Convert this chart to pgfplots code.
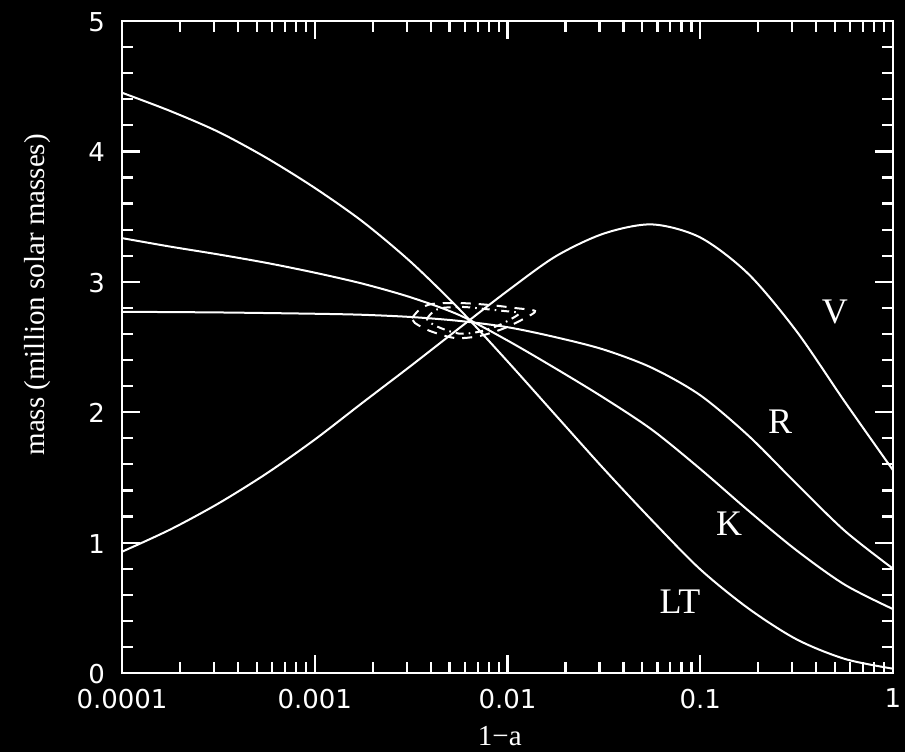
\documentclass[border=0pt]{standalone}
\usepackage{pgfplots}
\pgfplotsset{compat=1.18}
\usepackage{fontspec}
\setmainfont{Liberation Serif}
\newfontfamily\tickfont{DejaVu Sans}
\begin{document}
\begin{tikzpicture}
\path[use as bounding box, fill=black] (-61bp,-39.5bp) rectangle (391.5bp,336.5bp);
\begin{axis}[
  at={(0,0)}, anchor=south west,
  scale only axis, width=385.5bp, height=326bp,
  xmode=log, xmin=1e-4, xmax=1, ymin=0, ymax=5,
  axis line style={white, line width=1.2bp},
  every tick/.style={white, line width=1.1bp},
  major tick length=9bp, minor tick length=5.5bp,
  tick align=inside,
  xtick={1e-4,1e-3,1e-2,1e-1,1},
  xticklabels={0.0001,0.001,0.01,0.1,1},
  ytick={0,1,2,3,4,5},
  minor y tick num=4,
  /pgf/number format/assume math mode=true,
  tick label style={white, font=\tickfont\fontsize{13bp}{15bp}\selectfont},
  xticklabel style={yshift=-4.5bp},
  yticklabel style={xshift=-5bp, yshift=-0.5bp},
  xlabel={1−a}, ylabel={mass (million solar masses)},
  label style={white, font=\fontsize{14.5bp}{17bp}\selectfont},
  xlabel style={at={(axis description cs:0.49,-0.097)}, anchor=center},
  ylabel style={at={(axis description cs:-0.109,0.58)}, anchor=center},
]
% LT
\addplot[white, line width=1bp, smooth] coordinates {
(1e-4,4.45) (1.778e-4,4.31) (3.162e-4,4.15) (5.623e-4,3.95) (1e-3,3.72)
(1.778e-3,3.46) (3.162e-3,3.15) (5.623e-3,2.79) (0.01,2.39) (0.01778,1.977)
(0.03162,1.565) (0.05623,1.17) (0.1,0.795) (0.1778,0.495) (0.3162,0.258)
(0.5623,0.108) (1.0,0.033)};
% K
\addplot[white, line width=1bp, smooth] coordinates {
(1e-4,3.335) (1.778e-4,3.27) (3.162e-4,3.21) (5.623e-4,3.145) (1e-3,3.07)
(1.778e-3,2.985) (3.162e-3,2.88) (5.623e-3,2.745) (0.01,2.55) (0.01778,2.335)
(0.03162,2.11) (0.05623,1.865) (0.1,1.565) (0.1778,1.245) (0.3162,0.94)
(0.5623,0.677) (1.0,0.49)};
% R
\addplot[white, line width=1bp, smooth] coordinates {
(1e-4,2.77) (3.162e-4,2.765) (1e-3,2.755) (1.778e-3,2.747) (3.162e-3,2.73)
(5.623e-3,2.70) (0.01,2.652) (0.01778,2.575) (0.03162,2.48) (0.05623,2.34)
(0.1,2.13) (0.1778,1.82) (0.3162,1.45) (0.5623,1.09) (1.0,0.80)};
% V
\addplot[white, line width=1bp, smooth] coordinates {
(1e-4,0.93) (1.778e-4,1.10) (3.162e-4,1.30) (5.623e-4,1.53) (1e-3,1.79)
(1.778e-3,2.075) (3.162e-3,2.357) (5.623e-3,2.645) (0.01,2.93) (0.01778,3.195)
(0.03162,3.37) (0.05623,3.44) (0.1,3.34) (0.1778,3.06) (0.3162,2.62)
(0.5623,2.08) (1.0,1.555)};
% outer dashed contour
\addplot[white, line width=1bp, smooth, dash pattern=on 5bp off 4bp] coordinates {
(3.195e-3,2.722) (3.52e-3,2.791) (4.06e-3,2.830) (5.68e-3,2.837) (8.11e-3,2.822)
(1.094e-2,2.799) (1.390e-2,2.776) (1.233e-2,2.722) (9.71e-3,2.646) (7.20e-3,2.585)
(5.34e-3,2.569) (3.96e-3,2.623) (3.31e-3,2.684) (3.195e-3,2.722)};
% inner dash-dot contour
\addplot[white, line width=1bp, smooth, dash pattern=on 4bp off 2.5bp on 0.8bp off 2.5bp] coordinates {
(3.823e-3,2.718) (4.107e-3,2.770) (4.57e-3,2.799) (5.88e-3,2.807) (7.69e-3,2.791)
(9.59e-3,2.776) (1.148e-2,2.761) (1.054e-2,2.718) (8.83e-3,2.661) (7.03e-3,2.615)
(5.60e-3,2.603) (4.49e-3,2.646) (3.92e-3,2.692) (3.823e-3,2.718)};
\node[white, font=\fontsize{18bp}{20bp}\selectfont] at (axis cs:0.50,2.77) {V};
\node[white, font=\fontsize{18bp}{20bp}\selectfont] at (axis cs:0.2596,1.925) {R};
\node[white, font=\fontsize{18bp}{20bp}\selectfont] at (axis cs:0.141,1.143) {K};
\node[white, font=\fontsize{18bp}{20bp}\selectfont] at (axis cs:0.0785,0.545) {LT};
\end{axis}
\end{tikzpicture}
\end{document}
